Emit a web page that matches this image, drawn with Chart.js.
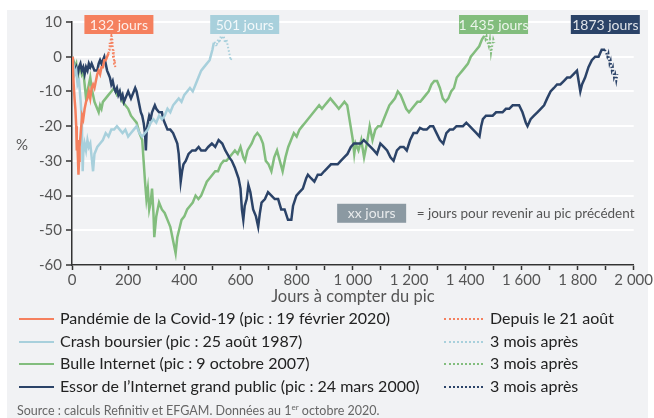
<!DOCTYPE html>
<html lang="fr">
<head>
<meta charset="utf-8">
<script src="https://cdn.jsdelivr.net/npm/chart.js@4.4.0/dist/chart.umd.min.js"></script>
<style>
  body { margin: 0; background: #fff; font-family: Lato, sans-serif; }
  #fond { position: absolute; left: 7px; top: 10px; width: 641px; height: 408px; background: #f1f2f4; }
  #graph { position: absolute; left: 0; top: 0; }
  .ligne { position: absolute; height: 22px; line-height: 22px; font-size: 16px; color: #222; white-space: nowrap; }
  .trait { position: absolute; top: 10px; height: 0; }
  .source { position: absolute; left: 17px; top: 402px; font-size: 12.5px; color: #666; }
  .source sup { font-size: 8px; }
</style>
</head>
<body>
<div id="fond"></div>
<canvas id="graph" width="654" height="308"></canvas>
<div id="legende"></div>
<div class="source">Source : calculs Refinitiv et EFGAM. Données au 1<sup>er</sup> octobre 2020.</div>

<script>
// couleurs des 4 séries
const ORANGE = "#f5805e";
const BLEU_CLAIR = "#a8d0dc";
const VERT = "#82bd7d";
const MARINE = "#2b4368";

// Covid-19 (pic : 19 février 2020), pointillés après le jour 130
const covidJours = [0,3,6,9,12,15,17,19,21,23,25,27,30,33,36,40,45,50,55,60,65,70,75,80,85,90,95,100,105,110,115,120,125,130,
  132,134,136,138,140,142,144,146,148,150,152,154];
const covidVals = [0,-3,-8,-12,-15,-20,-27,-24,-29,-34,-30,-26,-23,-20,-17,-18,-15,-13,-12,-10,-12,-9,-8,-9,-7,-5,-4,-5,-3,-3,-1,-1,0,1,
  2,4,3,5,6,3,5,0,2,-2,-1,-3];
const covidFin = 130;

// Crash boursier (pic : 25 août 1987)
const crashJours = [0,5,10,15,20,25,30,35,38,40,45,50,55,60,65,70,75,80,85,90,100,110,120,130,140,150,160,170,180,190,200,210,220,230,240,250,260,270,280,290,300,310,320,330,340,350,360,370,380,390,400,410,420,430,440,450,460,470,480,490,500,505,
  510,515,520,525,530,535,540,545,550,555,560,565,570];
const crashVals = [0,-2,-5,-4,-8,-7,-12,-18,-33,-28,-25,-27,-24,-26,-25,-29,-33,-28,-27,-26,-25,-24,-22,-23,-21,-21,-20,-21,-22,-21,-23,-22,-21,-20,-22,-23,-22,-21,-19,-18,-19,-17,-18,-17,-15,-16,-14,-13,-12,-13,-11,-10,-9,-10,-8,-6,-4,-3,-2,-1,2,4,
  4,3,5,4,6,5,6,4,5,3,1,-1,0];
const crashFin = 505;

// Bulle Internet (pic : 9 octobre 2007)
const bulleJours = [0,5,10,15,20,25,30,35,40,45,50,55,60,65,70,75,80,85,90,95,100,105,110,120,130,140,150,160,170,180,190,200,210,220,230,240,250,255,260,265,270,275,280,285,290,293,300,310,320,330,340,350,360,369,375,381,390,400,410,420,430,440,450,460,470,480,490,500,510,520,530,540,550,560,570,580,590,600,610,616,625,640,650,660,670,680,690,700,710,720,730,740,750,760,770,780,790,800,810,820,830,840,850,860,870,880,890,900,910,920,930,940,950,960,970,980,990,1000,1005,1010,1020,1030,1040,1050,1060,1070,1080,1090,1100,1110,1120,1130,1140,1150,1160,1170,1180,1190,1200,1210,1220,1230,1240,1250,1260,1270,1280,1290,1300,1310,1320,1330,1340,1350,1360,1370,1380,1390,1400,1410,1420,1430,1440,1450,1460,1468,
  1472,1476,1480,1484,1488,1492,1496,1500,1504];
const bulleVals = [0,-1,-3,-2,-6,-4,-3,-5,-4,-8,-12,-10,-8,-6,-9,-11,-13,-14,-15,-16,-14,-15,-13,-12,-11,-10,-9,-11,-10,-13,-14,-15,-17,-18,-19,-22,-24,-30,-36,-41,-38,-44,-42,-38,-45,-52,-46,-42,-44,-45,-47,-49,-53,-56.6,-52,-50,-47,-46,-44,-43,-42,-40,-41,-40,-38,-36,-35,-34,-33,-33,-31,-30,-30,-29,-28,-27,-28,-26,-29,-30,-27,-25,-23,-22,-23,-25,-30,-31,-33,-29,-27,-30,-33,-29,-26,-24,-22,-23,-21,-20,-19,-18,-17,-16,-15,-14,-15,-14,-13,-12,-13,-14,-15,-14,-13,-14,-19,-24,-28,-25,-27,-24,-29,-25,-20,-24,-21,-20,-20,-18,-16,-14,-13,-12,-10,-11,-13,-15,-16,-15,-14,-13,-13,-12,-11,-10,-8,-7,-7,-9,-12,-13,-12,-10,-9,-6,-5,-4,-3,-2,0,1,2,3,5,6,
  5,6,4,3,5,1,3,5,4];
const bulleFin = 1468;

// Essor de l'Internet grand public (pic : 24 mars 2000)
const essorJours = [0,5,10,15,20,25,30,35,40,45,50,55,60,65,70,80,90,95,100,105,110,115,120,125,130,135,140,145,150,155,160,165,170,175,180,185,190,200,210,220,225,230,235,240,245,250,255,260,263,266,270,275,280,285,290,295,300,310,320,325,330,340,350,360,370,375,380,387,392,397,405,415,428,440,451,460,475,485,498,510,522,535,546,560,569,580,593,600,605,610,615,622,628,635,645,655,663,669,675,687,698,710,722,734,745,757,769,781,787,799,810,822,834,840,851,863,875,887,898,910,922,934,946,957,969,981,993,1004,1016,1028,1039,1051,1063,1075,1086,1098,1110,1122,1134,1145,1157,1169,1181,1192,1204,1216,1228,1239,1251,1263,1275,1286,1298,1310,1322,1333,1345,1357,1369,1381,1392,1404,1416,1428,1440,1451,1457,1463,1474,1486,1498,1510,1521,1533,1545,1557,1569,1580,1592,1604,1616,1622,1633,1645,1657,1669,1681,1692,1704,1716,1727,1739,1751,1763,1774,1786,1798,1804,1810,1816,1827,1839,1851,1863,1875,1886,1898,
  1902,1906,1910,1914,1918,1922,1926,1930,1934,1938,1942];
const essorVals = [0,-2,-4,-3,-5,-3,-2,-4,-3,-5,-3,-4,-2,-3,-2,-4,-4,-2,-1,-2,-1,0,-2,-4,-5,-6,-8,-7,-9,-10,-9,-11,-10,-12,-11,-13,-12,-10,-12,-10,-9,-10,-12,-14,-16,-17,-19,-22,-27,-21,-19,-17,-18,-16,-15,-14,-15,-16,-16,-18,-19,-21,-21,-22,-24,-25,-28,-36,-33,-31,-30,-28,-27,-27,-26,-27,-27,-26,-25,-26,-24,-25,-27,-29,-30,-32,-35,-38,-44,-47,-43,-41,-37,-39,-44,-46,-49,-45,-42,-41,-39,-40,-41,-41,-44,-44,-47,-47,-43,-40,-39,-38,-35,-34,-35,-36,-34,-34,-33,-32,-31,-31,-31,-30,-29,-28,-26,-25,-25,-25,-24,-25,-26,-27,-28,-25,-26,-27,-29,-30,-27,-26,-26,-27,-24,-22,-22,-20.5,-21,-21,-20,-20,-22,-24,-25,-22,-21,-21,-20,-20,-20,-19,-20,-21,-22,-23,-20,-18,-17,-17,-17,-16,-16,-16,-15,-15,-14,-14,-14,-16,-19,-20,-18,-17,-16,-15,-14,-12,-10,-9,-8,-8,-7,-6,-6,-5,-4,-7,-10,-8,-6,-3,-1,0,0,2,2,
  1,0,1,-2,-1,-4,-3,-6,-5,-7,-5];
const essorFin = 1898;

// étiquettes "xx jours"
const etiquetteTextes = ["132 jours", "501 jours", "1 435 jours", "1873 jours"];
const etiquetteJours = [167, 615, 1501, 1899];
const etiquetteCouleurs = [ORANGE, BLEU_CLAIR, VERT, MARINE];

const xTicks = { min: 0, max: 2000, pas: 100 };
const yTicks = { min: -60, max: 10, pas: 10 };

function points(jours, vals) {
  return jours.map((j, i) => ({ x: j, y: vals[i] }));
}

function serie(label, jours, vals, fin, couleur) {
  return {
    label: label,
    data: points(jours, vals),
    borderColor: couleur,
    borderWidth: 2.5,
    pointRadius: 0,
    tension: 0,
    segment: {
      borderDash: (c) => (c.p0.parsed.x >= fin ? [1.5, 2] : undefined),
      borderWidth: (c) => (c.p0.parsed.x >= fin ? 2 : undefined),
    },
  };
}

function espaceMilliers(v) {
  return String(v).replace(/\B(?=(\d{3})+(?!\d))/g, " ");
}

const etiquettesPlugin = {
  id: "etiquettes",
  afterDatasetsDraw(chart) {
    const { ctx, chartArea } = chart;
    const x = chart.scales.x;
    const y = chart.scales.y;
    ctx.save();
    ctx.font = "14px Lato";
    ctx.textAlign = "center";
    ctx.textBaseline = "middle";
    etiquetteTextes.forEach((t, i) => {
      const cx = x.getPixelForValue(etiquetteJours[i]);
      const haut = chartArea.top - 7;
      ctx.fillStyle = etiquetteCouleurs[i];
      ctx.fillRect(cx - 34.5, haut, 69, 19);
      ctx.fillStyle = "rgba(255,255,255,0.85)";
      ctx.fillText(t, cx, haut + 10);
    });

    // clé "xx jours"
    const kx = x.getPixelForValue(1067);
    const ky = y.getPixelForValue(-45.1);
    ctx.fillStyle = "#8b99a2";
    ctx.fillRect(kx - 34.5, ky - 9.5, 69, 19);
    ctx.fillStyle = "rgba(255,255,255,0.8)";
    ctx.fillText("xx jours", kx, ky + 0.5);
    ctx.textAlign = "left";
    ctx.fillStyle = "#555";
    ctx.font = "13.5px Lato";
    ctx.fillText("= jours pour revenir au pic précédent", kx + 45, ky + 0.5);

    // unité
    ctx.font = "15px Lato";
    ctx.textAlign = "center";
    ctx.fillText("%", 22, y.getPixelForValue(-25.4));
    ctx.restore();
  },
};

const policeAxe = { size: 15, family: "Lato, sans-serif" };

new Chart(document.getElementById("graph").getContext("2d"), {
  type: "line",
  data: {
    datasets: [
      serie("Covid", covidJours, covidVals, covidFin, ORANGE),
      serie("Crash", crashJours, crashVals, crashFin, BLEU_CLAIR),
      serie("Essor", essorJours, essorVals, essorFin, MARINE),
      serie("Bulle", bulleJours, bulleVals, bulleFin, VERT),
    ],
  },
  options: {
    responsive: false,
    animation: false,
    layout: { padding: { left: 10, right: 15, top: 22, bottom: 0 } },
    plugins: { legend: { display: false }, tooltip: { enabled: false } },
    scales: {
      x: {
        type: "linear",
        min: xTicks.min,
        max: xTicks.max,
        afterFit: (s) => { s.height = 43; },
        ticks: {
          stepSize: xTicks.pas,
          autoSkip: false,
          maxRotation: 0,
          padding: 1,
          color: "#555",
          font: policeAxe,
          callback: (v) => (v % 200 === 0 ? espaceMilliers(v) : ""),
        },
        grid: { drawOnChartArea: false, tickLength: 5, tickColor: "#333", tickWidth: 1.5 },
        border: { display: true, color: "#333", width: 1.5 },
        title: {
          display: true,
          text: "Jours à compter du pic",
          color: "#555",
          font: { size: 16.5, family: "Lato, sans-serif" },
          padding: { top: 0, bottom: 1 },
        },
      },
      y: {
        min: yTicks.min,
        max: yTicks.max,
        afterFit: (s) => { s.width = 62; },
        ticks: { stepSize: yTicks.pas, padding: 4, color: "#555", font: policeAxe },
        grid: { color: "#ffffff", lineWidth: 2, tickLength: 6, tickColor: "#333", tickWidth: 1.5 },
        border: { display: true, color: "#333", width: 1.5 },
      },
    },
  },
  plugins: [etiquettesPlugin],
});

// légende en html
const legendeTextes = [
  "Pandémie de la Covid-19 (pic : 19 février 2020)",
  "Crash boursier (pic : 25 août 1987)",
  "Bulle Internet (pic : 9 octobre 2007)",
  "Essor de l’Internet grand public (pic : 24 mars 2000)",
];
const legendeApres = ["Depuis le 21 août", "3 mois après", "3 mois après", "3 mois après"];
const legendeCouleurs = [ORANGE, BLEU_CLAIR, VERT, MARINE];

const legende = document.getElementById("legende");
legendeTextes.forEach((t, i) => {
  const haut = 307 + i * 22.5;
  legende.innerHTML += `
    <div class="trait" style="left:19px;top:${haut + 11}px;width:35px;border-top:2.5px solid ${legendeCouleurs[i]}"></div>
    <div class="ligne" style="left:60px;top:${haut}px">${t}</div>
    <div class="trait" style="left:444px;top:${haut + 11}px;width:39px;border-top:2px dotted ${legendeCouleurs[i]}"></div>
    <div class="ligne" style="left:490px;top:${haut}px">${legendeApres[i]}</div>`;
});
</script>
</body>
</html>
